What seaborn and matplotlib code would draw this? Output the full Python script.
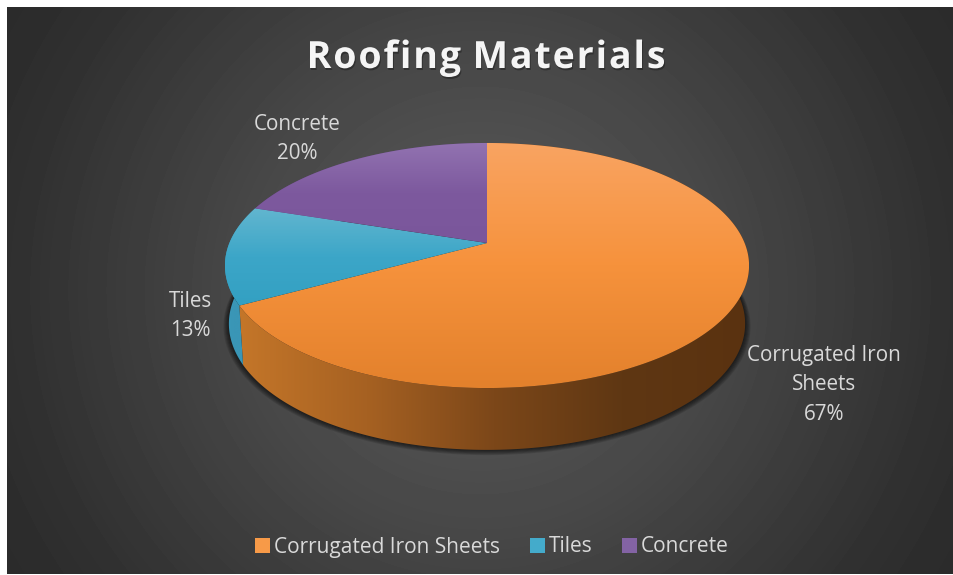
import numpy as np
import matplotlib
matplotlib.use("Agg")
import matplotlib.pyplot as plt
import seaborn as sns
from matplotlib.colors import LinearSegmentedColormap, to_rgb
from matplotlib.patches import Polygon, Rectangle
from matplotlib.path import Path
from matplotlib.patheffects import AbstractPathEffect
from matplotlib.transforms import IdentityTransform

# Chart data
categories = ["Corrugated Iron Sheets", "Tiles", "Concrete"]
label_names = ["Corrugated Iron\nSheets", "Tiles", "Concrete"]
shares = [67, 13, 20]
title_text = "Roofing Materials"

# Styling
face_ramps = [["#f9a462", "#f6923c", "#e3812c"],
              ["#62b6cf", "#3ca6c8", "#33a0c2"],
              ["#9273b1", "#7d599e", "#7a569b"]]
wall_ramps = [["#c47629", "#a66122", "#7c4719", "#5f3713", "#5a3210"],
              ["#3c9aba", "#3a96b6", "#3a96b6", "#3a96b6", "#3a96b6"],
              ["#5d4377", "#5d4377", "#5d4377", "#5d4377", "#5d4377"]]
legend_colors = sns.color_palette(["#f79a48", "#44abcb", "#8363a4"])
TEXT = "#d9d9d9"
FONT = ["Open Sans", "DejaVu Sans"]

# Perspective disc: pivot, half axes, foreshortening
PX, PY = 487.0, 243.0
A, B, K = 257.6, 118.4, 0.1837
DEPTH, SX, SY = 57.5, 0.985, 1.03

sns.set_theme(style="white")
plt.rcParams["font.family"] = FONT


class LetterSpaced(AbstractPathEffect):
    """Spreads the glyphs of a text path apart and draws them with an offset colour."""

    def __init__(self, spacing, offset=(0, 0), color=None, alpha=1.0):
        super().__init__()
        self.spacing, self.shift, self.color, self.alpha = spacing, offset, color, alpha

    def draw_path(self, renderer, gc, tpath, affine, rgbFace=None):
        verts = affine.transform(tpath.vertices)
        codes = tpath.codes
        starts = list(np.flatnonzero(codes == Path.MOVETO)) + [len(codes)]
        contours = []
        for s, e in zip(starts[:-1], starts[1:]):
            real = codes[s:e] != Path.CLOSEPOLY
            xs = verts[s:e][real, 0]
            contours.append((xs.min(), xs.max(), s, e))
        contours.sort()
        out_v, out_c = [], []
        glyph, reach = -1, -np.inf
        groups = []
        for x0, x1, s, e in contours:
            if x0 > reach - 0.5:
                glyph += 1
            reach = max(reach, x1)
            groups.append((glyph, s, e))
        for g, s, e in groups:
            v = verts[s:e].copy()
            v[:, 0] += (g - glyph / 2) * self.spacing + self.shift[0]
            v[:, 1] += self.shift[1]
            out_v.append(v)
            out_c.append(codes[s:e])
        path = Path(np.concatenate(out_v), np.concatenate(out_c))
        gc0 = renderer.new_gc()
        gc0.copy_properties(gc)
        gc0.set_alpha(self.alpha)
        face = to_rgb(self.color) if self.color is not None else rgbFace
        renderer.draw_path(gc0, path, IdentityTransform(), face)
        gc0.restore()


def project(theta, level=0.0, grow=1.0):
    """Map clockwise angles on the disc (0 = far side) to canvas coordinates."""
    u, v = np.sin(theta), -np.cos(theta)
    w = 1 - K * v
    if level:
        return np.c_[PX + SX * grow * A * u / w, PY + DEPTH + SY * grow * B * v / w]
    return np.c_[PX + grow * A * u / w, PY + grow * B * v / w]


def gradient_patch(ax, poly, colors, horizontal, zorder):
    """Fill a polygon with a linear colour ramp."""
    ax.add_patch(poly)
    (x0, y0), (x1, y1) = poly.get_path().get_extents().get_points()
    ramp = LinearSegmentedColormap.from_list("ramp", [to_rgb(c) for c in colors])
    grad = np.linspace(0, 1, 256)
    data = grad[None, :] if horizontal else grad[:, None]
    im = ax.imshow(data, cmap=ramp, extent=(x0, x1, y1, y0), aspect="auto",
                   interpolation="bilinear", zorder=zorder)
    im.set_clip_path(poly)


fig = plt.figure(figsize=(9.54, 5.75), dpi=100, facecolor="white")
ax = fig.add_axes([0, 0, 1, 1])
ax.set_axis_off()

# Panel with a soft round glow
yy, xx = np.mgrid[7:574, 7:954]
dist = np.hypot(xx - 480, yy - 290) / 550
shade = np.interp(dist, [0, 0.45, 0.85, 1.0], [0x5c, 0x47, 0x30, 0x2b]) / 255
ax.imshow(shade, cmap="gray", vmin=0, vmax=1, extent=(7, 954, 574, 7),
          aspect="auto", zorder=0, interpolation="bilinear")

# Slice boundaries come from the shares
edges = np.cumsum([0] + shares) / sum(shares) * 2 * np.pi

# Soft shadow under the rim
ring = np.linspace(0, 2 * np.pi, 361)
for step in range(1, 7):
    outline = project(ring, level=1, grow=1 + step * 0.0035) + [0, step * 0.35]
    ax.add_patch(Polygon(outline, closed=True, fc="black", ec="none",
                         alpha=0.12, zorder=1))

# Side walls
for i in range(len(shares)):
    arc = np.linspace(edges[i], edges[i + 1], 300)
    outline = np.vstack([project(arc), project(arc, level=1)[::-1]])
    poly = Polygon(outline, closed=True, fc="none", ec="none", zorder=2)
    gradient_patch(ax, poly, wall_ramps[i], True, 2 + i * 0.1)

# Top faces meet at the pivot
for i in range(len(shares)):
    arc = np.linspace(edges[i], edges[i + 1], 300)
    outline = np.vstack([[PX, PY], project(arc)])
    poly = Polygon(outline, closed=True, fc="none", ec="none", zorder=3)
    gradient_patch(ax, poly, face_ramps[i], False, 3 + i * 0.1)

# Slice labels
label_xy = [(824, 385), (190, 316), (297, 139)]
for name, value, (x, y) in zip(label_names, shares, label_xy):
    ax.text(x, y, f"{name}\n{value}%", ha="center", va="center", color=TEXT,
            fontsize=14.9, linespacing=1.5, zorder=5)

# Title
title = ax.text(486, 58, title_text, ha="center", va="center", color="#f5f5f5",
                fontsize=27, fontweight="bold", zorder=5)
title.set_path_effects([LetterSpaced(1.9, offset=(1, -2), color="black", alpha=0.3),
                        LetterSpaced(1.9)])

# Legend
handles = [Rectangle((0, 0), 1, 1, fc=c, ec="none") for c in legend_colors]
ax.legend(handles, categories, loc="center", bbox_to_anchor=(492 / 954, 1 - 547 / 575),
          ncol=3, frameon=False, fontsize=15, labelcolor=TEXT, handlelength=0.72,
          handleheight=0.72, handletextpad=0.2, columnspacing=1.4, borderpad=0)

ax.set_xlim(0, 954)
ax.set_ylim(575, 0)
fig.savefig("out.png", dpi=100, facecolor="white")
